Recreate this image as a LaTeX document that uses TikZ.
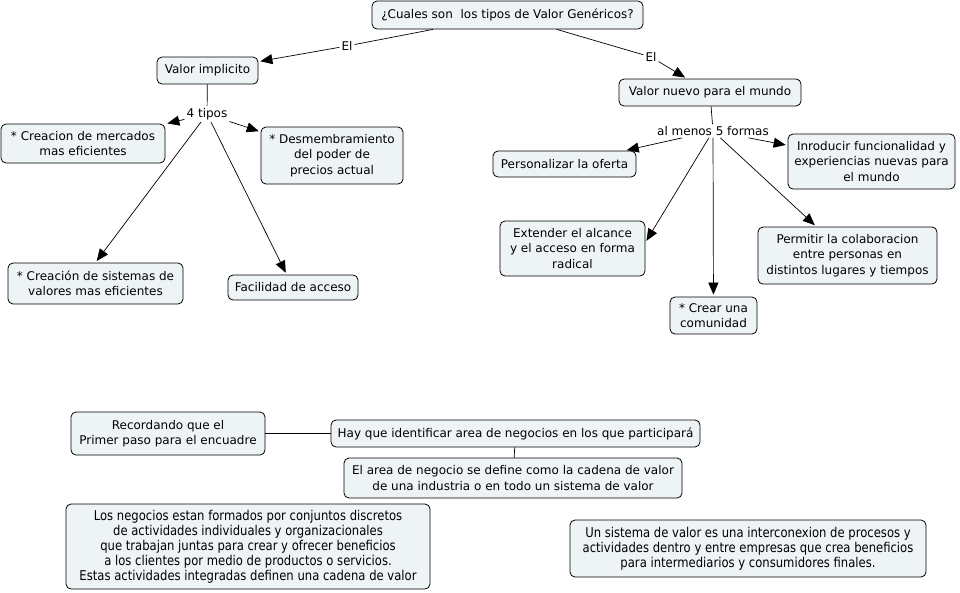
\documentclass[tikz,border=0pt]{standalone}
\usepackage{fontspec}
\setmainfont{DejaVu Sans}
\newfontfamily\condfont{DejaVu Sans}[FakeStretch=0.86]
\usetikzlibrary{arrows.meta}
\definecolor{boxfill}{RGB}{238,244,246}
\tikzset{
  cbox/.style={draw=black, fill=boxfill, rounded corners=5pt, align=center, inner sep=0pt, line width=0.8pt, font=\fontsize{12}{15.5}\selectfont},
  lbl/.style={inner sep=2pt, font=\fontsize{12}{14}\selectfont},
  arr/.style={-{Triangle[length=12pt,width=10pt]}, line width=0.7pt, shorten >=2pt},
  ln/.style={line width=0.7pt},
}
\begin{document}
\begin{tikzpicture}[x=1pt,y=-1pt]
\useasboundingbox[fill=white] (0,0) rectangle (960,592);
% nodes
\node[cbox, minimum width=271pt, minimum height=28pt] (top) at (507.5,15) {¿Cuales son\ \ los tipos de Valor Genéricos?};
\node[cbox, minimum width=101pt, minimum height=27pt] (vi) at (207.5,70.5) {Valor implicito};
\node[cbox, minimum width=182pt, minimum height=27pt] (vn) at (710,92.5) {Valor nuevo para el mundo};
\node[lbl] (el1) at (347,46) {El};
\node[lbl] (el2) at (651,57) {El};
\node[lbl] (t4) at (207,114) {4 tipos};
\node[lbl] (m5) at (713,131) {al menos 5 formas};
\node[cbox, minimum width=164pt, minimum height=39pt] (cm) at (83,143.5) {* Creacion de mercados\\mas eficientes};
\node[cbox, minimum width=142pt, minimum height=57pt] (dp) at (332,155.5) {* Desmembramiento\\del poder de\\precios actual};
\node[cbox, minimum width=175pt, minimum height=41pt] (cs) at (95.5,283.5) {* Creación de sistemas de\\valores mas eficientes};
\node[cbox, minimum width=130pt, minimum height=25pt] (fa) at (293,287.5) {Facilidad de acceso};
\node[cbox, minimum width=143pt, minimum height=26pt] (po) at (564.5,164) {Personalizar la oferta};
\node[cbox, minimum width=167pt, minimum height=55pt] (in) at (871.5,161.5) {Inroducir funcionalidad y\\experiencias nuevas para\\el mundo};
\node[cbox, minimum width=145pt, minimum height=55pt] (ex) at (572.5,248.5) {Extender el alcance\\y el acceso en forma\\radical};
\node[cbox, minimum width=179pt, minimum height=57pt] (pc) at (847.5,255.5) {Permitir la colaboracion\\entre personas en\\distintos lugares y tiempos};
\node[cbox, minimum width=87pt, minimum height=37pt] (cc) at (713.5,315.5) {* Crear una\\comunidad};
\node[cbox, minimum width=194pt, minimum height=43pt] (rq) at (168,433.5) {Recordando que el\\Primer paso para el encuadre};
\node[cbox, minimum width=369pt, minimum height=27pt] (hi) at (515.5,433.5) {Hay que identificar area de negocios en los que participará};
\node[cbox, minimum width=338pt, minimum height=40pt] (an) at (513,478) {El area de negocio se define como la cadena de valor\\de una industria o en todo un sistema de valor};
\node[cbox, minimum width=364pt, minimum height=85pt, font=\condfont\fontsize{13.5}{15}\selectfont] (ln) at (248,546.5) {Los negocios estan formados por conjuntos discretos\\de actividades individuales y organizacionales\\que trabajan juntas para crear y ofrecer beneficios\\a los clientes por medio de productos o servicios.\\Estas actividades integradas definen una cadena de valor};
\node[cbox, minimum width=356pt, minimum height=57pt, font=\condfont\fontsize{13.5}{15}\selectfont] (sv) at (748,548.5) {Un sistema de valor es una interconexion de procesos y\\actividades dentro y entre empresas que crea beneficios\\para intermediarios y consumidores finales.};
% connectors
\draw[ln] (top) -- (el1);
\draw[arr] (el1) -- (vi);
\draw[ln] (top) -- (el2);
\draw[arr] (el2) -- (vn);
\draw[ln] (vi) -- (t4);
\draw[arr] (t4) -- (cm);
\draw[arr] (t4) -- (dp);
\draw[arr] (t4) -- (cs.north);
\draw[arr] (t4) -- (fa);
\draw[ln] (vn) -- (m5);
\draw[arr] (m5) -- (po);
\draw[arr] (m5) -- (in);
\draw[arr] (m5) -- ([yshift=6pt]ex.east);
\draw[arr] (m5) -- (cc);
\draw[arr] (m5) -- (pc);
\draw[ln] (rq) -- (hi);
\draw[ln] (hi) -- (an);
\end{tikzpicture}
\end{document}
